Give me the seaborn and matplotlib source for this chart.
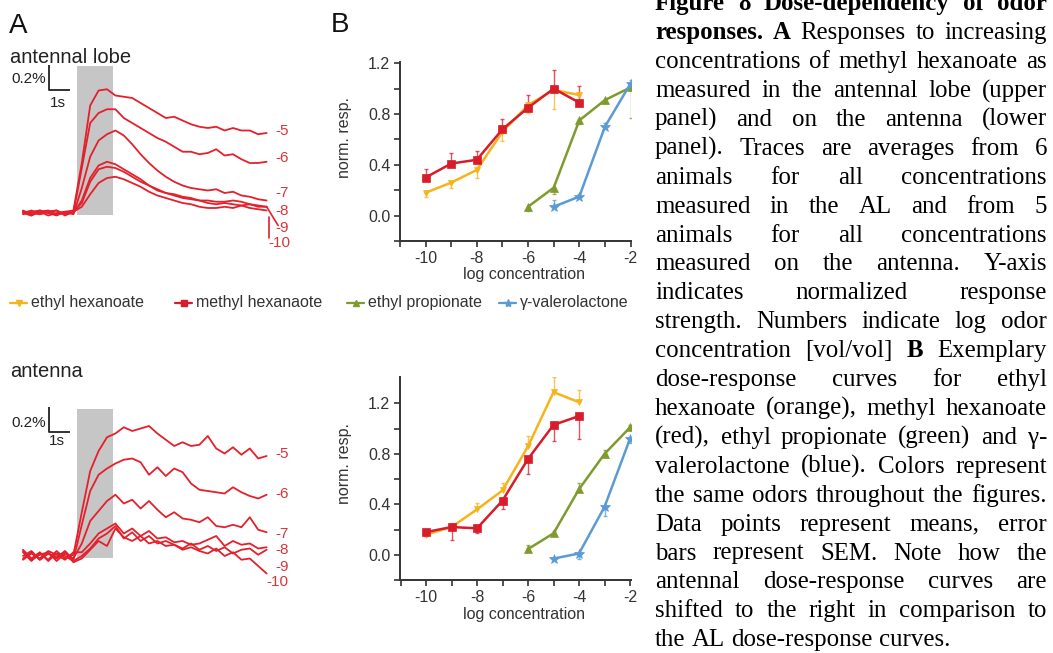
import matplotlib
matplotlib.use("Agg")
import matplotlib.pyplot as plt
import seaborn as sns
import pandas as pd
from matplotlib.patches import Rectangle

# Figure size in pixels (dpi 100)
W, H = 1053, 653

# ---------------- Panel A: averaged traces (dF/F in %), one frame every 0.4 s
t_step = 0.4
stim_on, stim_off = 2.55, 4.3
trace_labels = [-5, -6, -7, -8, -9, -10]

al_traces = {
    -5: [0.01, -0.02, 0.02, 0.00, -0.01, 0.01, 0.02, 0.40, 0.86, 0.98, 0.99, 0.94, 0.93, 0.92, 0.88,
         0.84, 0.80, 0.76, 0.77, 0.74, 0.71, 0.69, 0.68, 0.69, 0.66, 0.68, 0.66, 0.66, 0.63, 0.64],
    -6: [0.00, 0.02, -0.01, 0.01, 0.02, -0.01, 0.00, 0.36, 0.72, 0.80, 0.83, 0.83, 0.76, 0.72, 0.68,
         0.64, 0.60, 0.57, 0.53, 0.49, 0.49, 0.47, 0.48, 0.51, 0.46, 0.47, 0.43, 0.40, 0.40, 0.41],
    -7: [0.02, -0.01, 0.01, -0.02, 0.00, 0.01, -0.01, 0.20, 0.45, 0.58, 0.63, 0.66, 0.62, 0.55, 0.47,
         0.40, 0.34, 0.29, 0.25, 0.22, 0.20, 0.19, 0.18, 0.19, 0.16, 0.17, 0.14, 0.13, 0.11, 0.10],
    -8: [-0.01, 0.01, 0.02, 0.00, -0.02, 0.01, 0.00, 0.10, 0.28, 0.38, 0.41, 0.39, 0.35, 0.31, 0.27,
         0.22, 0.18, 0.16, 0.15, 0.13, 0.12, 0.10, 0.08, 0.07, 0.08, 0.07, 0.06, 0.07, 0.05, 0.05],
    -9: [0.00, -0.02, 0.01, 0.02, -0.01, 0.00, 0.01, 0.05, 0.15, 0.24, 0.28, 0.29, 0.27, 0.24, 0.21,
         0.17, 0.14, 0.12, 0.10, 0.08, 0.07, 0.05, 0.04, 0.04, 0.05, 0.04, 0.06, 0.04, 0.03, 0.02],
    -10: [0.01, 0.00, -0.01, 0.01, 0.02, -0.02, 0.01, 0.08, 0.25, 0.35, 0.37, 0.36, 0.33, 0.29, 0.25,
          0.22, 0.19, 0.16, 0.14, 0.12, 0.11, 0.10, 0.10, 0.09, 0.09, 0.10, 0.09, 0.07, 0.06, 0.05],
}

ant_traces = {
    -5: [0.03, -0.04, 0.02, -0.03, 0.04, -0.02, 0.01, 0.35, 0.68, 0.84, 0.95, 0.98, 1.03, 1.00, 1.02,
         1.04, 0.98, 0.93, 0.88, 0.91, 0.88, 0.89, 0.96, 0.86, 0.82, 0.87, 0.81, 0.86, 0.78, 0.80],
    -6: [-0.02, 0.03, -0.03, 0.02, -0.01, 0.04, -0.03, 0.25, 0.52, 0.65, 0.70, 0.74, 0.77, 0.78, 0.75,
         0.65, 0.71, 0.64, 0.70, 0.67, 0.58, 0.53, 0.52, 0.51, 0.50, 0.55, 0.51, 0.48, 0.46, 0.49],
    -7: [0.04, -0.03, 0.01, 0.03, -0.04, 0.02, -0.02, 0.10, 0.28, 0.36, 0.44, 0.49, 0.42, 0.45, 0.38,
         0.44, 0.37, 0.31, 0.35, 0.30, 0.29, 0.27, 0.31, 0.24, 0.23, 0.25, 0.23, 0.31, 0.21, 0.19],
    -8: [-0.03, 0.02, -0.02, 0.04, 0.01, -0.03, 0.03, 0.03, 0.10, 0.18, 0.22, 0.26, 0.18, 0.22, 0.16,
         0.20, 0.14, 0.15, 0.11, 0.12, 0.09, 0.10, 0.13, 0.16, 0.08, 0.12, 0.09, 0.10, 0.06, 0.07],
    -9: [0.05, -0.02, 0.03, -0.04, 0.02, 0.00, -0.04, 0.00, 0.06, 0.14, 0.18, 0.24, 0.14, 0.19, 0.12,
         0.16, 0.10, 0.12, 0.09, 0.06, 0.10, 0.05, 0.08, 0.04, 0.07, 0.02, 0.05, 0.06, 0.01, 0.05],
    -10: [0.00, 0.04, -0.03, 0.02, -0.02, 0.03, -0.05, -0.02, 0.05, 0.12, 0.08, 0.22, 0.15, 0.12, 0.16,
          0.10, 0.12, 0.08, 0.09, 0.05, 0.07, 0.04, 0.02, 0.06, 0.00, 0.03, -0.03, -0.02, -0.08, -0.14],
}

# label heights (in %) next to the trace ends
al_label_v = [0.66, 0.44, 0.16, 0.016, -0.12, -0.24]
ant_label_v = [0.82, 0.50, 0.18, 0.048, -0.085, -0.205]

# ---------------- Panel B: dose-response (mean, SEM)
odor_names = ["ethyl hexanoate", "methyl hexanaote", "ethyl propionate", "\u03b3-valerolactone"]
odor_colors = ["#f5b41c", "#d81c2a", "#7f9b2f", "#5b9bd5"]
odor_markers = ["v", "s", "^", "*"]
odor_msize = [5, 6, 5.5, 7]

conc_esters = [-10, -9, -8, -7, -6, -5, -4]
conc_ep = [-6, -5, -4, -3, -2]
conc_gv = [-5, -4, -3, -2]
odor_conc = [conc_esters, conc_esters, conc_ep, conc_gv]

al_mean = [
    [0.18, 0.26, 0.36, 0.66, 0.87, 0.99, 0.95],
    [0.30, 0.41, 0.44, 0.68, 0.85, 1.00, 0.89],
    [0.07, 0.22, 0.75, 0.91, 1.01],
    [0.07, 0.15, 0.70, 1.04],
]
al_sem = [
    [0.03, 0.04, 0.06, 0.07, 0.06, 0.15, 0.07],
    [0.07, 0.08, 0.07, 0.08, 0.10, 0.15, 0.13],
    [0.03, 0.05, 0.03, 0.02, 0.24],
    [0.05, 0.02, 0.03, 0.03],
]
al_err_side = ["down", "up", "down", "up"]

ant_mean = [
    [0.16, 0.22, 0.36, 0.51, 0.86, 1.29, 1.21],
    [0.18, 0.22, 0.21, 0.43, 0.76, 1.03, 1.10],
    [0.045, 0.17, 0.52, 0.80, 1.01],
    [-0.03, 0.01, 0.38, 0.92],
]
ant_sem = [
    [0.03, 0.03, 0.05, 0.06, 0.08, 0.12, 0.10],
    [0.03, 0.10, 0.04, 0.07, 0.12, 0.13, 0.18],
    [0.03, 0.02, 0.05, 0.03, 0.02],
    [0.01, 0.04, 0.07, 0.03],
]
ant_err_side = ["up", "down", "up", "down"]

caption_lines = [
    "**Figure** **8** **Dose-dependency** **of** **odor**",
    "**responses.** **A** Responses to increasing",
    "concentrations of methyl hexanoate as",
    "measured in the antennal lobe (upper",
    "panel) and on the antenna (lower",
    "panel). Traces are averages from 6",
    "animals for all concentrations",
    "measured in the AL and from 5",
    "animals for all concentrations",
    "measured on the antenna. Y-axis",
    "indicates normalized response",
    "strength. Numbers indicate log odor",
    "concentration [vol/vol] **B** Exemplary",
    "dose-response curves for ethyl",
    "hexanoate (orange), methyl hexanoate",
    "(red), ethyl propionate (green) and \u03b3-",
    "valerolactone (blue). Colors represent",
    "the same odors throughout the figures.",
    "Data points represent means, error",
    "bars represent SEM. Note how the",
    "antennal dose-response curves are",
    "shifted to the right in comparison to",
    "the AL dose-response curves.",
]

# ---------------- style
sns.set_style("ticks")
plt.rcParams["font.family"] = ["Liberation Sans", "DejaVu Sans"]
plt.rcParams["axes.unicode_minus"] = False

trace_red = "#e3202b"
label_red = "#d8343c"
dark = "#333333"

fig = plt.figure(figsize=(W / 100, H / 100), dpi=100)


def px_axes(x0, y0, x1, y1):
    return fig.add_axes([x0 / W, 1 - y1 / H, (x1 - x0) / W, (y1 - y0) / H])


def fx(x):
    return x / W


def fy(y):
    return 1 - y / H


def trace_frame(traces):
    rows = []
    for c, vals in traces.items():
        for i, v in enumerate(vals):
            rows.append((c, i * t_step, v))
    return pd.DataFrame(rows, columns=["conc", "t", "dff"])


def draw_traces(box, x0px, base_px, traces, label_v, scale_y, label_x):
    # 21 px per second, 125 px per 1 % dF/F
    pps, ppp = 21.0, 125.0
    ax = px_axes(*box)
    ax.set_xlim((box[0] - x0px) / pps, (box[2] - x0px) / pps)
    ax.set_ylim((base_px - box[3]) / ppp, (base_px - box[1]) / ppp)
    ax.axis("off")
    ax.add_patch(Rectangle((stim_on, -0.015), stim_off - stim_on, 1.195,
                           facecolor="#c6c6c6", edgecolor="none", zorder=0))
    df = trace_frame(traces)
    sns.lineplot(data=df, x="t", y="dff", units="conc", estimator=None,
                 color=trace_red, lw=1.3, ax=ax, legend=False, zorder=2)
    # scale bar 1 s / 0.2 %
    ax.plot([1.22, 1.22, 2.22], [scale_y + 0.2, scale_y, scale_y], color="#222222", lw=1.3,
            solid_capstyle="butt", clip_on=False)
    for lab, v, lx in zip(trace_labels, label_v, label_x):
        ax.text(lx, v, str(lab), color=label_red, fontsize=11, ha="left", va="center")
    return ax


axA1 = draw_traces((0, 55, 330, 255), 23, 213, al_traces, al_label_v, 0.984,
                   [12.0, 12.0, 12.0, 12.0, 12.0, 11.7])
# leader lines for the crowded labels
axA1.plot([11.71, 11.71], [-0.03, -0.2], color=trace_red, lw=1.2)
axA1.plot([11.6, 12.15], [0.05, -0.1], color=trace_red, lw=1.2)

axA2 = draw_traces((0, 395, 330, 600), 23, 556, ant_traces, ant_label_v, 0.992,
                   [12.0, 12.0, 12.0, 12.0, 12.0, 11.6])

# Panel A texts
fig.text(fx(9), fy(33), "A", fontsize=20, ha="left", va="baseline", color="#111111")
fig.text(fx(10), fy(63), "antennal lobe", fontsize=14.5, ha="left", va="baseline", color="#222222")
fig.text(fx(10), fy(377), "antenna", fontsize=14.5, ha="left", va="baseline", color="#222222")
fig.text(fx(46), fy(83), "0.2%", fontsize=11, ha="right", va="baseline", color="#222222")
fig.text(fx(58), fy(107), "1s", fontsize=11, ha="center", va="baseline", color="#222222")
fig.text(fx(46), fy(427), "0.2%", fontsize=11, ha="right", va="baseline", color="#222222")
fig.text(fx(57), fy(445), "1s", fontsize=11, ha="center", va="baseline", color="#222222")
fig.text(fx(331), fy(32), "B", fontsize=20, ha="left", va="baseline", color="#111111")


# ---------------- Panel B
def draw_dose(box, xlim, ylim, means, sems, sides):
    ax = px_axes(*box)
    for k in range(len(odor_names)):
        sns.lineplot(x=odor_conc[k], y=means[k], ax=ax, color=odor_colors[k],
                     marker=odor_markers[k], markersize=odor_msize[k],
                     markeredgecolor=odor_colors[k], markeredgewidth=0.5,
                     lw=1.8, legend=False, zorder=3)
        zeros = [0] * len(sems[k])
        yerr = [sems[k], zeros] if sides[k] == "down" else [zeros, sems[k]]
        ax.errorbar(odor_conc[k], means[k], yerr=yerr, fmt="none", ecolor=odor_colors[k],
                    elinewidth=1.0, capsize=1.5, alpha=0.75, zorder=2)
    ax.set_xlim(*xlim)
    ax.set_ylim(*ylim)
    ax.set_xticks([-10, -8, -6, -4, -2])
    ax.set_xticks([-11, -9, -7, -5, -3], minor=True)
    ax.set_yticks([0.0, 0.4, 0.8, 1.2])
    ax.set_yticks([-0.2, 0.2, 0.6, 1.0], minor=True)
    ax.set_yticklabels(["0.0", "0.4", "0.8", "1.2"])
    ax.tick_params(which="both", direction="out", length=4, width=1.2, colors=dark,
                   labelsize=11.5, pad=3)
    ax.set_xlabel("")
    ax.set_ylabel("")
    sns.despine(ax=ax)
    for s in ["left", "bottom"]:
        ax.spines[s].set_linewidth(1.4)
        ax.spines[s].set_color(dark)
    ax.set_facecolor("none")
    return ax


axB1 = draw_dose((400, 62, 631, 241), (-10.97, -10.97 + 231 / 25.7), (-0.197, 1.21),
                 al_mean, al_sem, al_err_side)
axB2 = draw_dose((400, 377, 631, 580), (-11.02, -11.02 + 231 / 25.5), (-0.198, 1.41),
                 ant_mean, ant_sem, ant_err_side)

for ylab_y, xlab_y in [(137, 274), (463, 614)]:
    fig.text(fx(345), fy(ylab_y), "norm. resp.", rotation=90, fontsize=11.5, color=dark,
             ha="center", va="center")
    fig.text(fx(524), fy(xlab_y), "log concentration", fontsize=11.5, color=dark,
             ha="center", va="center")

# legend row
axL = px_axes(0, 292, 640, 314)
axL.set_xlim(0, 640)
axL.set_ylim(314, 292)
axL.axis("off")
legend_x = [10, 175, 347, 499]
for k, lx in enumerate(legend_x):
    axL.plot([lx, lx + 17], [303, 303], color=odor_colors[k], lw=1.6)
    axL.plot([lx + 8.5], [303], marker=odor_markers[k], markersize=odor_msize[k] - 1,
             color=odor_colors[k], markeredgecolor=odor_colors[k])
    axL.text(lx + 21, 303, odor_names[k], fontsize=11.5, color=dark, ha="left", va="center")

# ---------------- caption (justified, Times-like)
renderer = fig.canvas.get_renderer()
cap_size = 17.9
cap_left, cap_right = 655, 1047
line_gap = 28.9
first_base = 10.4
space_px = 0.25 * cap_size * 100 / 72

for li, line in enumerate(caption_lines):
    words = line.split()
    arts = []
    for w in words:
        bold = w.startswith("**") and w.endswith("**")
        txt = w.strip("*") if bold else w
        t = fig.text(0, 0, txt, fontsize=cap_size, fontweight="bold" if bold else "normal",
                     family=["Liberation Serif", "DejaVu Serif"], color="black",
                     ha="left", va="baseline")
        arts.append((t, t.get_window_extent(renderer).width))
    total = sum(wd for _, wd in arts)
    if li == len(caption_lines) - 1 or len(arts) == 1:
        gap = space_px
    else:
        gap = (cap_right - cap_left - total) / (len(arts) - 1)
    x = cap_left
    y = first_base + li * line_gap
    for t, wd in arts:
        t.set_position((fx(x), fy(y)))
        x += wd + gap

fig.savefig("out.png", dpi=100)
